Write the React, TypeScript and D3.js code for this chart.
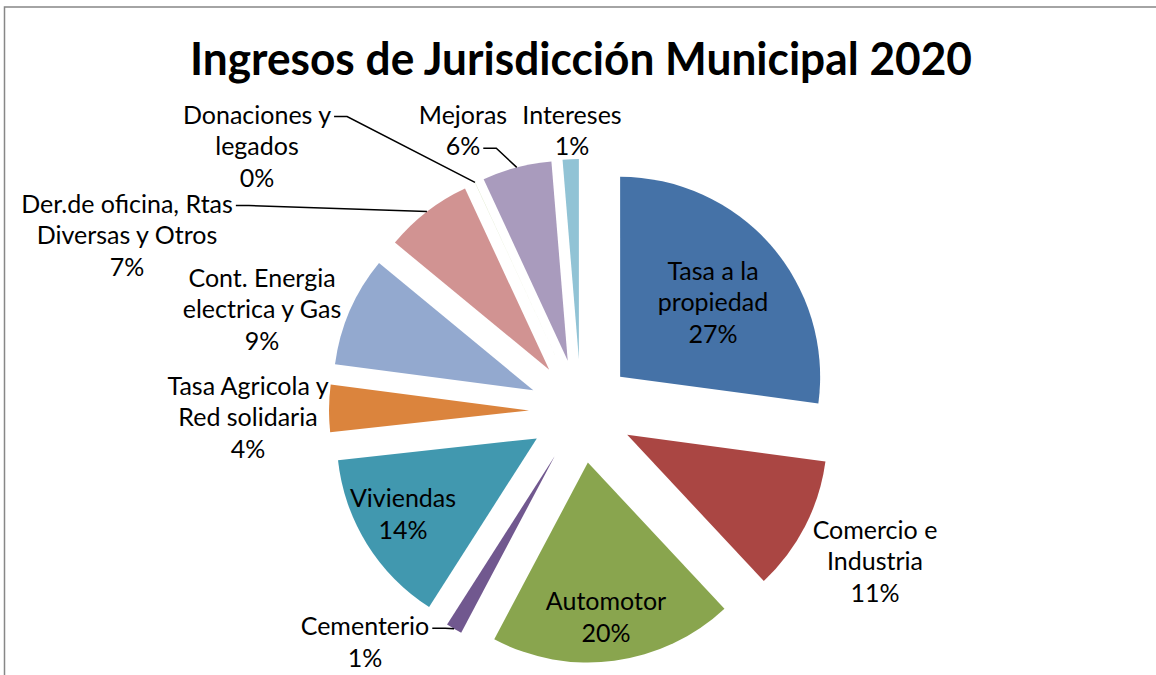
import React, { useEffect, useRef } from "react";
import * as d3 from "d3";

const title = "Ingresos de Jurisdicción Municipal 2020";

// slices clockwise from 12 o'clock ("\n" = where the label wraps)
const categories = [
  "Tasa a la\npropiedad",
  "Comercio e\nIndustria",
  "Automotor",
  "Cementerio",
  "Viviendas",
  "Tasa Agricola y\nRed solidaria",
  "Cont. Energia\nelectrica y Gas",
  "Der.de oficina, Rtas\nDiversas y Otros",
  "Donaciones y\nlegados",
  "Mejoras",
  "Intereses",
];
const values = [27.1, 10.9, 19.7, 1.3, 14.2, 3.8, 8.9, 7.1, 0.01, 5.6, 1.3];
const colors = [
  "#4572A7", "#AA4643", "#89A54E", "#71588F", "#4198AF", "#DB843D",
  "#93A9CF", "#D19392", "#B9CD96", "#A99BBD", "#91C3D5",
];

// label block centre, relative to the pie centre
const labelOffsets = [
  [132, -110], [294, 149], [25, 205], [-216, 230], [-178, 102], [-333, 5],
  [-319, -103], [-454, -177], [-324, -266], [-118, -281.5], [-9, -281.5],
];
// which text line the leader line leaves from (-1 = no leader)
const leaderFrom = [-1, -1, -1, 0, -1, -1, -1, 0, 0, 1, -1];

const W = 1156;
const H = 675;

const PieChart: React.FC = () => {
  const svgRef = useRef<SVGSVGElement>(null);

  useEffect(() => {
    const svgEl = d3.select(svgRef.current);
    svgEl.selectAll("*").remove();

    const cx = 581, cy = 411, radius = 200, explode = 52;
    const fontSize = 25, lineH = 31.5;
    const font = "Lato, 'Open Sans', sans-serif";

    // frame
    svgEl.append("rect")
      .attr("x", 4.5).attr("y", 7)
      .attr("width", W + 20).attr("height", H + 20)
      .attr("fill", "white")
      .attr("stroke", "#878787")
      .attr("stroke-width", 1.5);

    svgEl.append("text")
      .attr("x", cx).attr("y", 75)
      .attr("text-anchor", "middle")
      .attr("font-family", font)
      .attr("font-weight", 700)
      .attr("font-size", 46)
      .attr("textLength", 782)
      .attr("lengthAdjust", "spacingAndGlyphs")
      .text(title);

    const total = d3.sum(values);
    const pct = d3.format(".0%");
    const pie = d3.pie<number>().sort(null).value(d => d);
    const arcs = pie(values);
    const arc = d3.arc<d3.PieArcDatum<number>>().innerRadius(0).outerRadius(radius);
    const mid = (d: d3.PieArcDatum<number>) => (d.startAngle + d.endAngle) / 2;

    const g = svgEl.append("g").attr("transform", `translate(${cx},${cy})`);

    g.selectAll(".slice")
      .data(arcs)
      .enter().append("path")
      .attr("class", "slice")
      .attr("d", arc)
      .attr("fill", (d, i) => colors[i])
      .attr("transform", d => {
        const a = mid(d);
        return `translate(${Math.sin(a) * explode},${-Math.cos(a) * explode})`;
      });

    const leaders = g.append("g");

    arcs.forEach((d, i) => {
      const lines = categories[i].split("\n").concat(pct(values[i] / total));
      const [ox, oy] = labelOffsets[i];
      const y0 = oy - ((lines.length - 1) / 2) * lineH;
      const txt = g.append("text")
        .attr("font-family", font)
        .attr("font-size", fontSize)
        .attr("text-anchor", "middle")
        .attr("fill", "#000");
      const spans = lines.map((l, k) =>
        txt.append("tspan")
          .attr("x", ox)
          .attr("y", y0 + k * lineH)
          .attr("dominant-baseline", "central")
          .text(l)
      );

      const li = leaderFrom[i];
      if (li >= 0) {
        const node = spans[li].node() as SVGTSpanElement;
        const w = node.getComputedTextLength();
        const sx = ox + w / 2 + 3;
        const sy = y0 + li * lineH + 3;
        const a = mid(d);
        const ex = Math.sin(a) * (radius + explode);
        const ey = -Math.cos(a) * (radius + explode);
        leaders.append("path")
          .attr("d", d3.line()([[sx, sy], [sx + 13, sy], [ex, ey]]))
          .attr("fill", "none")
          .attr("stroke", "#000")
          .attr("stroke-width", 1.5);
      }
    });
  }, []);

  return (
    <svg
      ref={svgRef}
      width={W}
      height={H}
      style={{ position: "absolute", left: 0, top: 0, background: "white" }}
    />
  );
};

export default function App() {
  return <PieChart />;
}
